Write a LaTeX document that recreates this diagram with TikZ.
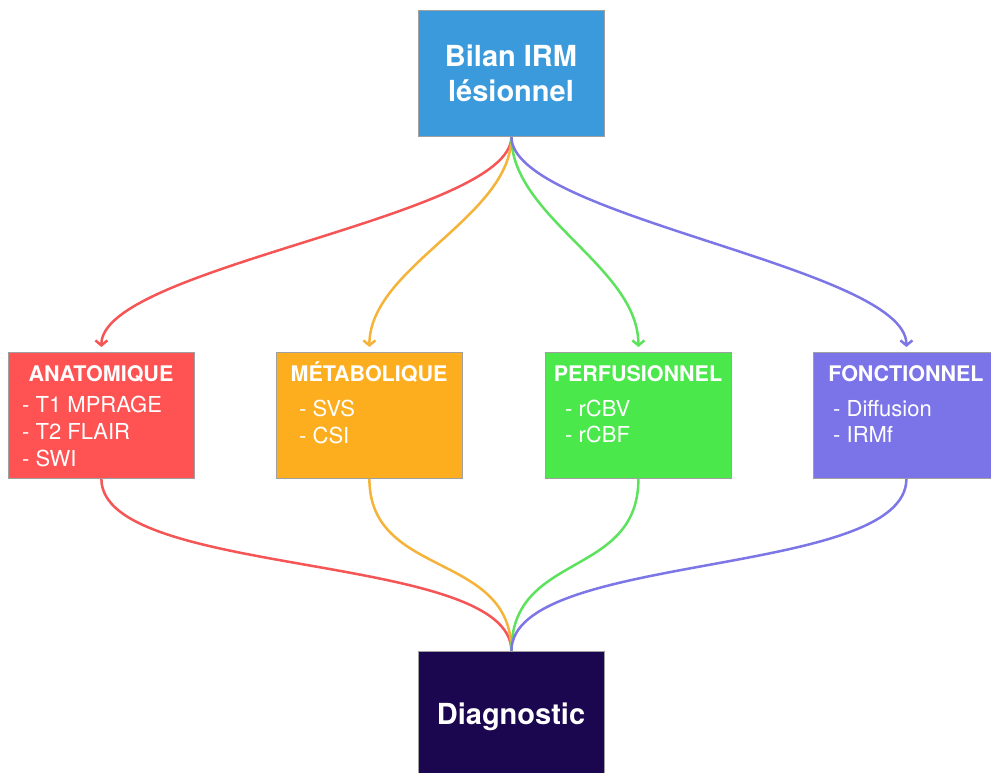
\documentclass[tikz,border=0pt]{standalone}
\usepackage{fontspec}
\setmainfont{TeX Gyre Heros}
\usetikzlibrary{arrows.meta}
\definecolor{cbilan}{HTML}{3A9ADB}
\definecolor{canat}{HTML}{FF5353}
\definecolor{cmetab}{HTML}{FDAE1F}
\definecolor{cperf}{HTML}{4BE84B}
\definecolor{cfonct}{HTML}{7B73E8}
\definecolor{cdiag}{HTML}{1B0650}
\definecolor{lred}{HTML}{F65555}
\definecolor{lorange}{HTML}{F5B33A}
\definecolor{lgreen}{HTML}{5CE25C}
\definecolor{lpurple}{HTML}{7C76E6}
\definecolor{boxborder}{HTML}{A0A0A0}
\begin{document}
\begin{tikzpicture}[x=1pt,y=-1pt,
  box/.style={draw=boxborder, line width=0.8pt, minimum width=186pt, minimum height=126pt, inner sep=0pt, anchor=north west},
  title/.style={text=white, font=\fontsize{29}{34}\selectfont\bfseries, anchor=base, inner sep=0pt},
  head/.style={text=white, font=\fontsize{21.5}{25}\selectfont\bfseries, anchor=base, inner sep=0pt},
  item/.style={text=white, font=\fontsize{22}{26}\selectfont, anchor=base west, inner sep=0pt},
  conn/.style={line width=2.5pt},
  tip/.style={-{Straight Barb[length=5pt,width=12pt]}}
]
\useasboundingbox (0,0) rectangle (991,772);
\fill[white] (0,0) rectangle (991,772);
% boxes
\node[box, fill=cbilan] (bilan) at (418,10) {};
\node[box, fill=canat] (anat) at (8,352) {};
\node[box, fill=cmetab] (metab) at (276,352) {};
\node[box, fill=cperf] (perf) at (545,352) {};
\node[box, fill=cfonct] (fonct) at (813,352) {};
\node[box, fill=cdiag] (diag) at (418,651) {};
% texts
\node[title] (t1) at (511,66) {Bilan IRM};
\node[title] (t2) at (511,101) {lésionnel};
\node[title] (t3) at (511,724) {Diagnostic};
\node[head] (h1) at (101,381) {ANATOMIQUE};
\node[head] (h2) at (369,381) {MÉTABOLIQUE};
\node[head] (h3) at (638,381) {PERFUSIONNEL};
\node[head] (h4) at (906,381) {FONCTIONNEL};
\node[item] (a1) at (22,412) {- T1 MPRAGE};
\node[item] (a2) at (22,439) {- T2 FLAIR};
\node[item] (a3) at (22,466) {- SWI};
\node[item] (m1) at (299,416) {- SVS};
\node[item] (m2) at (299,443) {- CSI};
\node[item] (p1) at (565,416) {- rCBV};
\node[item] (p2) at (565,442) {- rCBF};
\node[item] (f1) at (833,416) {- Diffusion};
\node[item] (f2) at (833,442) {- IRMf};
% connectors top
\draw[conn, lred, tip] (bilan.south) .. controls +(0,80) and +(0,-80) .. ([yshift=5pt]anat.north);
\draw[conn, lorange, tip] (bilan.south) .. controls +(0,80) and +(0,-80) .. ([yshift=5pt]metab.north);
\draw[conn, lgreen, tip] (bilan.south) .. controls +(0,80) and +(0,-80) .. ([yshift=5pt]perf.north);
\draw[conn, lpurple, tip] (bilan.south) .. controls +(0,80) and +(0,-80) .. ([yshift=5pt]fonct.north);
% connectors bottom
\draw[conn, lred] (anat.south) .. controls +(0,100) and +(0,-100) .. (diag.north);
\draw[conn, lorange] (metab.south) .. controls +(0,100) and +(0,-100) .. (diag.north);
\draw[conn, lgreen] (perf.south) .. controls +(0,100) and +(0,-100) .. (diag.north);
\draw[conn, lpurple] (fonct.south) .. controls +(0,100) and +(0,-100) .. (diag.north);
\end{tikzpicture}
\end{document}
